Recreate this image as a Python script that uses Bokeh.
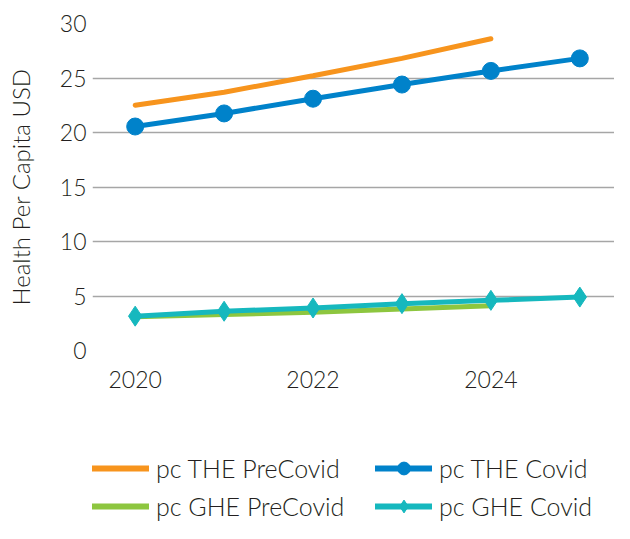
from bokeh.plotting import figure
from bokeh.layouts import column
from bokeh.models import Legend, LegendItem, FixedTicker, Range1d
from bokeh.embed import file_html
from bokeh.resources import INLINE

years_pre = [2020, 2021, 2022, 2023, 2024]
years_covid = [2020, 2021, 2022, 2023, 2024, 2025]
the_precovid = [22.5, 23.7, 25.2, 26.8, 28.6]
the_covid = [20.55, 21.75, 23.1, 24.4, 25.65, 26.8]
ghe_precovid = [3.1, 3.3, 3.5, 3.8, 4.1]
ghe_covid = [3.15, 3.6, 3.9, 4.3, 4.6, 4.9]
x_ticks = [2020, 2022, 2024]
y_ticks = [0, 5, 10, 15, 20, 25, 30]
labels = ["pc THE PreCovid", "pc THE Covid", "pc GHE PreCovid", "pc GHE Covid"]

FONT = "'Lato Light', Lato"
TXT = "#231f20"
c_orange = "#F7941D"
c_blue = "#0082CA"
c_green = "#8DC63F"
c_teal = "#16B8BE"

p = figure(width=614, height=410, output_backend="svg", toolbar_location=None,
           x_range=Range1d(2019.52, 2025.39), y_range=Range1d(0, 30))
p.min_border_left = 92
p.min_border_top = 23
p.min_border_right = 0
p.min_border_bottom = 60
p.outline_line_color = None
p.background_fill_color = "white"
p.border_fill_color = "white"

p.xgrid.grid_line_color = None
p.ygrid.grid_line_color = "#a6a6a6"
p.ygrid.grid_line_width = 1.5

p.xaxis.ticker = FixedTicker(ticks=x_ticks)
p.yaxis.ticker = FixedTicker(ticks=y_ticks)
for ax in (p.xaxis, p.yaxis):
    ax.axis_line_color = None
    ax.major_tick_line_color = None
    ax.minor_tick_line_color = None
    ax.major_label_text_font = FONT
    ax.major_label_text_font_size = "23px"
    ax.major_label_text_color = TXT
p.xaxis.major_label_standoff = 14
p.yaxis.major_label_standoff = 0
p.yaxis.axis_label = "Health Per Capita USD"
p.yaxis.axis_label_text_font = FONT
p.yaxis.axis_label_text_font_size = "24px"
p.yaxis.axis_label_text_font_style = "normal"
p.yaxis.axis_label_text_color = TXT
p.yaxis.axis_label_standoff = 22

p.line(years_pre, the_precovid, line_color=c_orange, line_width=5, line_cap="round")
p.line(years_covid, the_covid, line_color=c_blue, line_width=5, line_cap="round")
p.scatter(years_covid, the_covid, marker="circle", size=17, fill_color=c_blue, line_color=c_blue)
p.line(years_pre, ghe_precovid, line_color=c_green, line_width=5, line_cap="round")
p.line(years_covid, ghe_covid, line_color=c_teal, line_width=5, line_cap="round")
p.scatter(years_covid, ghe_covid, marker="diamond", size=20, fill_color=c_teal, line_color=c_teal)

# legend figure (its renderers reuse the series, kept out of its view range)
lf = figure(width=614, height=113, output_backend="svg", toolbar_location=None,
            x_range=Range1d(0, 1), y_range=Range1d(0, 1))
lf.min_border_left = 0
lf.min_border_right = 0
lf.min_border_top = 0
lf.min_border_bottom = 0
lf.axis.visible = False
lf.grid.visible = False
lf.outline_line_color = None
l1 = lf.line(years_pre, the_precovid, line_color=c_orange, line_width=6, line_cap="round")
l2 = lf.line(years_covid, the_covid, line_color=c_blue, line_width=6, line_cap="round")
l2m = lf.scatter(years_covid, the_covid, marker="circle", size=14, fill_color=c_blue, line_color=c_blue)
l3 = lf.line(years_pre, ghe_precovid, line_color=c_green, line_width=6, line_cap="round")
l4 = lf.line(years_covid, ghe_covid, line_color=c_teal, line_width=6, line_cap="round")
l4m = lf.scatter(years_covid, ghe_covid, marker="diamond", size=16, fill_color=c_teal, line_color=c_teal)

legend = Legend(items=[
    LegendItem(label=labels[0], renderers=[l1]),
    LegendItem(label=labels[1], renderers=[l2, l2m]),
    LegendItem(label=labels[2], renderers=[l3]),
    LegendItem(label=labels[3], renderers=[l4, l4m]),
], ncols=2)
legend.orientation = "horizontal"
legend.border_line_color = None
legend.background_fill_alpha = 0
legend.label_text_font = FONT
legend.label_text_font_size = "25px"
legend.label_text_color = TXT
legend.glyph_width = 57
legend.glyph_height = 32
legend.label_height = 32
legend.label_width = 213
legend.label_standoff = 7
legend.spacing = 6
legend.padding = 0
legend.margin = 0
legend.location = (0, 1)
lf.add_layout(legend, "center")

layout = column(p, lf, spacing=0)
open("out.html", "w").write(file_html(layout, INLINE))
